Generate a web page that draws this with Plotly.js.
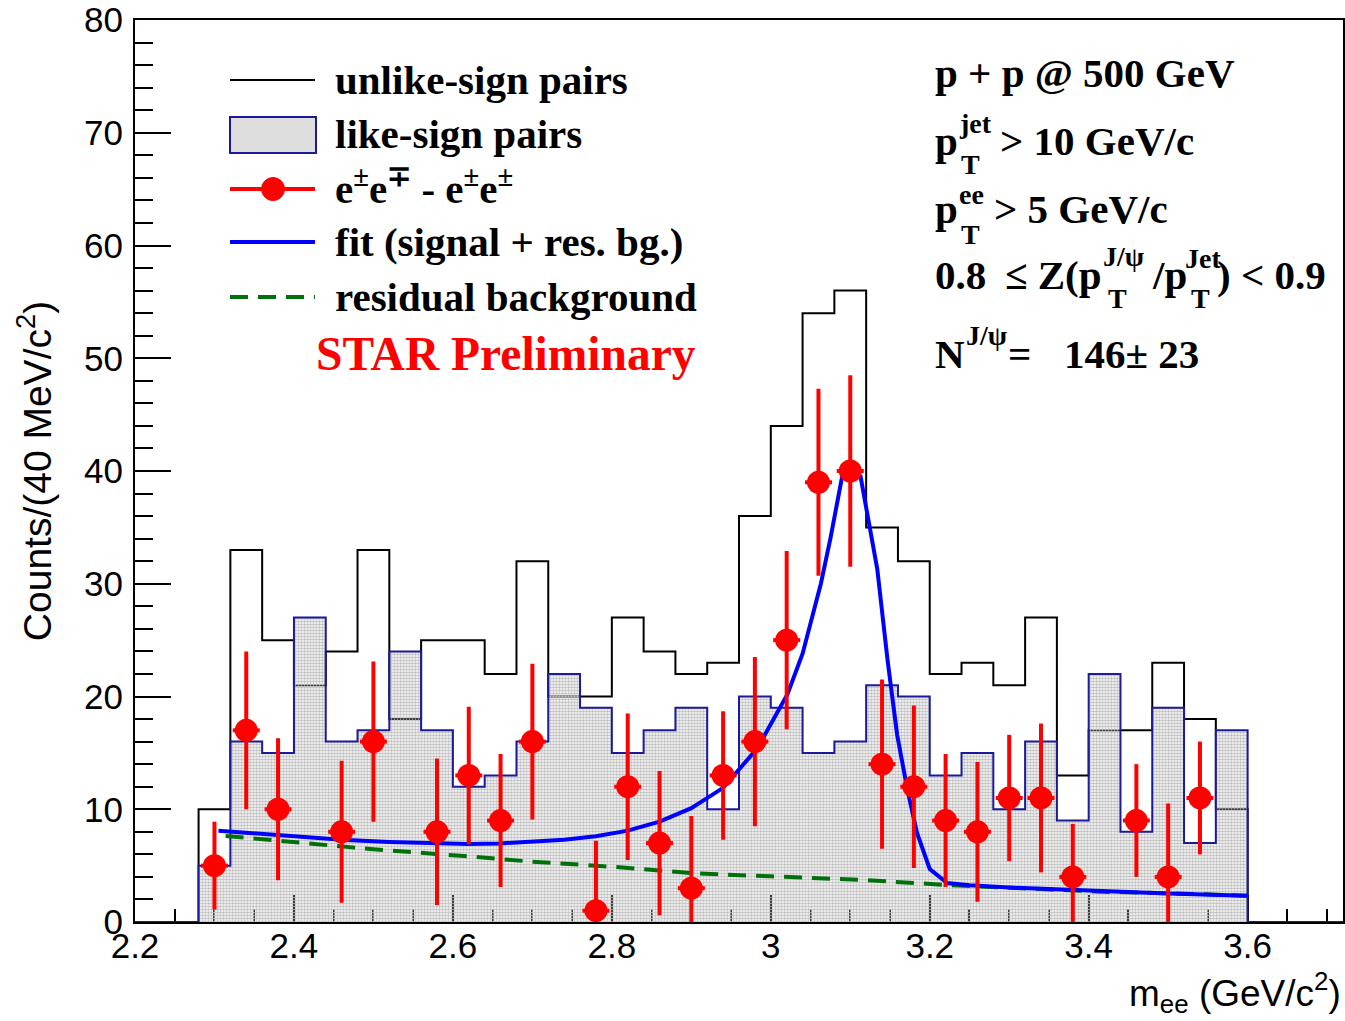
<!DOCTYPE html>
<html>
<head>
<meta charset="utf-8">
<script src="https://cdn.plot.ly/plotly-3.0.1.min.js"></script>
<style>html,body{margin:0;padding:0;background:#fff;}#chart{width:1345px;height:1021px;}</style>
</head>
<body>
<div id="chart"></div>
<script>
// ---- data ----
const binLeft = [2.28,2.32,2.36,2.40,2.44,2.48,2.52,2.56,2.60,2.64,2.68,2.72,2.76,2.80,2.84,2.88,2.92,2.96,3.00,3.04,3.08,3.12,3.16,3.20,3.24,3.28,3.32,3.36,3.40,3.44,3.48,3.52,3.56];
const binEndEdge = 3.60;
const unlikeSign = [10,33,25,21,24,33,18,25,25,22,32,20,20,27,24,22,23,36,44,54,56,35,32,22,23,21,27,13,17,17,23,18,10];
const likeSign   = [5,16,15,27,16,17,24,17,12,13,16,22,19,15,17,19,10,20,19,15,16,21,20,13,15,10,16,9,22,8,19,7,17];

const diffMass = [2.30,2.34,2.38,2.46,2.50,2.58,2.62,2.66,2.70,2.78,2.82,2.86,2.90,2.94,2.98,3.02,3.06,3.10,3.14,3.18,3.22,3.26,3.30,3.34,3.38,3.46,3.50,3.54];
const diffCounts = [5,17,10,8,16,8,13,9,16,1,12,7,3,13,16,25,39,40,14,12,9,8,11,11,4,9,4,11];
const diffErr = [3.9,7.0,6.3,6.3,7.1,6.5,6.1,5.9,6.9,6.2,6.5,6.4,6.4,5.7,7.5,7.9,8.3,8.5,7.5,7.2,5.9,6.2,5.6,6.6,4.7,5.0,6.5,5.0];
const diffHalfWidth = 0.017;

const fitMass = [2.305,2.35,2.40,2.46,2.52,2.58,2.62,2.66,2.70,2.74,2.78,2.82,2.86,2.90,2.94,2.983,3.021,3.04,3.063,3.075,3.09,3.113,3.134,3.147,3.159,3.172,3.184,3.20,3.222,3.25,3.30,3.40,3.50,3.60];
const fitCounts = [8.1,7.85,7.6,7.3,7.1,6.95,6.92,6.97,7.1,7.3,7.6,8.1,8.9,10.1,11.9,15.4,20.2,23.8,30.0,34.0,39.6,39.5,31.3,23.2,16.6,11.7,7.9,4.7,3.45,3.25,3.05,2.75,2.52,2.33];

const bgMass = [2.314,2.40,2.46,2.50,2.614,2.70,2.80,2.908,3.00,3.117,3.222,3.30,3.415,3.50,3.60];
const bgCounts = [7.63,7.05,6.68,6.45,5.85,5.35,4.9,4.3,4.05,3.73,3.28,3.05,2.69,2.55,2.33];

// ---- build step outlines from the bin arrays ----
function stepXY(vals, padL, padR) {
  const x = [], y = [];
  if (padL !== undefined) { x.push(padL); y.push(0); }
  x.push(binLeft[0]); y.push(0);
  for (let i = 0; i < vals.length; i++) { x.push(binLeft[i]); y.push(vals[i]); }
  x.push(binEndEdge); y.push(vals[vals.length-1]);
  x.push(binEndEdge); y.push(0);
  if (padR !== undefined) { x.push(padR); y.push(0); }
  return {x, y};
}
const XR = [2.2, 3.72];
const uStep = stepXY(unlikeSign);
const lStep = stepXY(likeSign, XR[0], XR[1]);

const RED = '#ff0000', BLUE = '#0000ff', NAVY = '#1a1a9a', GREEN = '#00700a';

const traces = [
  {name:'unlike-sign pairs', x:uStep.x, y:uStep.y, type:'scatter', mode:'lines',
   line:{shape:'hv', color:'#000', width:2}, showlegend:false, hoverinfo:'skip'},
  {name:'like-sign pairs', x:lStep.x, y:lStep.y, type:'scatter', mode:'lines',
   line:{shape:'hv', color:NAVY, width:2}, fill:'tozeroy', fillcolor:'rgba(0,0,0,0)',
   fillpattern:{shape:'.', fgcolor:'#c0c0c0', bgcolor:'rgba(0,0,0,0)', size:3, solidity:0.6},
   showlegend:false, hoverinfo:'skip'},
  {name:'residual background', x:bgMass, y:bgCounts, type:'scatter', mode:'lines',
   line:{color:GREEN, width:4, dash:'18px,10px'}, showlegend:false},
  {name:'fit (signal + res. bg.)', x:fitMass, y:fitCounts, type:'scatter', mode:'lines',
   line:{color:BLUE, width:4}, showlegend:false},
  {name:'e±e∓ - e±e±', x:diffMass, y:diffCounts, type:'scatter', mode:'markers',
   marker:{color:RED, size:23},
   error_y:{type:'data', array:diffErr, visible:true, color:RED, thickness:4, width:0},
   error_x:{type:'constant', value:diffHalfWidth, visible:true, color:RED, thickness:4, width:0},
   showlegend:false}
];

// ---- pixel helpers for decorations ----
const L = 135, T = 20, W = 1208, H = 902;
const px = x => (x - L) / W;
const py = y => 1 - (y - T) / H;

const SERIF = 'Liberation Serif, Times New Roman, serif';
const SANS = 'Liberation Sans, Arial, sans-serif';
const annotations = [];
function txt(text, x, y, size, color, anchor) {
  annotations.push({text:text, xref:'paper', yref:'paper', x:px(x), y:py(y),
    xanchor:anchor||'left', yanchor:'middle', showarrow:false,
    font:{family:SERIF, size:size, color:color||'#000'}});
}
// legend texts
const LGS = 41;
txt('<b>unlike-sign pairs</b>', 333, 80, LGS);
txt('<b>like-sign pairs</b>', 333, 134, LGS);
txt('<b>e<sup>±</sup>e<sup>∓</sup> - e<sup>±</sup>e<sup>±</sup></b>', 333, 186, LGS);
txt('<b>fit (signal + res. bg.)</b>', 333, 242, LGS);
txt('<b>residual background</b>', 333, 297, LGS);
txt('<b>STAR Preliminary</b>', 314, 354, 47.5, RED);
// right-side block
const MS = 41, SS = 28;
txt('<b>p + p @ 500 GeV</b>', 933, 73, MS);
txt('<b>p</b>', 933, 141, MS); txt('<b>jet</b>', 957, 124, SS); txt('<b>T</b>', 959, 164, SS);
txt('<b>> 10 GeV/c</b>', 998, 141, MS);
txt('<b>p</b>', 933, 209, MS); txt('<b>ee</b>', 957, 195, SS); txt('<b>T</b>', 959, 234, SS);
txt('<b>> 5 GeV/c</b>', 992, 209, MS);
txt('<b>0.8</b>', 933, 275, MS); txt('<b>≤ Z(p</b>', 1003, 275, MS);
txt('<b>J/ψ</b>', 1101, 257, SS); txt('<b>T</b>', 1106, 298, SS);
txt('<b>/p</b>', 1150, 275, MS);
txt('<b>Jet</b>', 1183, 258, SS); txt('<b>T</b>', 1189, 298, SS);
txt('<b>) < 0.9</b>', 1215, 275, MS);
txt('<b>N</b>', 933, 354, MS); txt('<b>J/ψ</b>', 964, 335, SS);
txt('<b>=</b>', 1006, 354, MS); txt('<b>146± 23</b>', 1062, 354, MS);
// x-axis title (right aligned at the axis end)
annotations.push({text:'m<sub>ee</sub> (GeV/c<sup>2</sup>)', xref:'paper', yref:'paper',
  x:px(1343), y:py(993), xanchor:'right', yanchor:'middle', showarrow:false,
  font:{family:SANS, size:37, color:'#000'}});

// legend symbols
const shapes = [
  {type:'line', xref:'paper', yref:'paper', x0:px(230), x1:px(315), y0:py(80), y1:py(80), line:{color:'#000', width:2}},
  {type:'rect', xref:'paper', yref:'paper', x0:px(230), x1:px(316), y0:py(117), y1:py(153), line:{color:NAVY, width:2}, fillcolor:'#dedede'},
  {type:'line', xref:'paper', yref:'paper', x0:px(230), x1:px(315), y0:py(189), y1:py(189), line:{color:RED, width:4}},
  {type:'circle', xref:'paper', yref:'paper', x0:px(261.5), x1:px(284.5), y0:py(177.5), y1:py(200.5), line:{color:RED, width:1}, fillcolor:RED},
  {type:'line', xref:'paper', yref:'paper', x0:px(230), x1:px(315), y0:py(242), y1:py(242), line:{color:BLUE, width:4}},
  {type:'line', xref:'paper', yref:'paper', x0:px(230), x1:px(315), y0:py(297), y1:py(297), line:{color:GREEN, width:4, dash:'18px,10px'}}
];

const layout = {
  width:1345, height:1021,
  margin:{l:135, r:2, t:20, b:99},
  paper_bgcolor:'#fff', plot_bgcolor:'#fff',
  showlegend:false,
  xaxis:{range:XR, tick0:2.2, dtick:0.2, ticks:'inside', ticklen:27, tickwidth:2, tickcolor:'#000',
    showgrid:false, zeroline:false, showline:true, mirror:true, linecolor:'#000', linewidth:2,
    layer:'below traces',
    minor:{dtick:0.05, tick0:2.2, ticks:'inside', ticklen:13, tickwidth:2, tickcolor:'#000', showgrid:false},
    tickfont:{family:SANS, size:35, color:'#000'}, ticklabelstandoff:-8},
  yaxis:{range:[0,80], tick0:0, dtick:10, ticks:'inside', ticklen:36, tickwidth:2, tickcolor:'#000',
    showgrid:false, zeroline:false, showline:true, mirror:true, linecolor:'#000', linewidth:2,
    layer:'below traces',
    minor:{dtick:2, ticks:'inside', ticklen:18, tickwidth:2, tickcolor:'#000', showgrid:false},
    tickfont:{family:SANS, size:35, color:'#000'}, ticklabelstandoff:3,
    title:{text:'Counts/(40 MeV/c<sup>2</sup>)', font:{family:SANS, size:39, color:'#000'}, standoff:20}},
  annotations:annotations,
  shapes:shapes
};

Plotly.newPlot('chart', traces, layout, {displayModeBar:false, staticPlot:true});
</script>
</body>
</html>
